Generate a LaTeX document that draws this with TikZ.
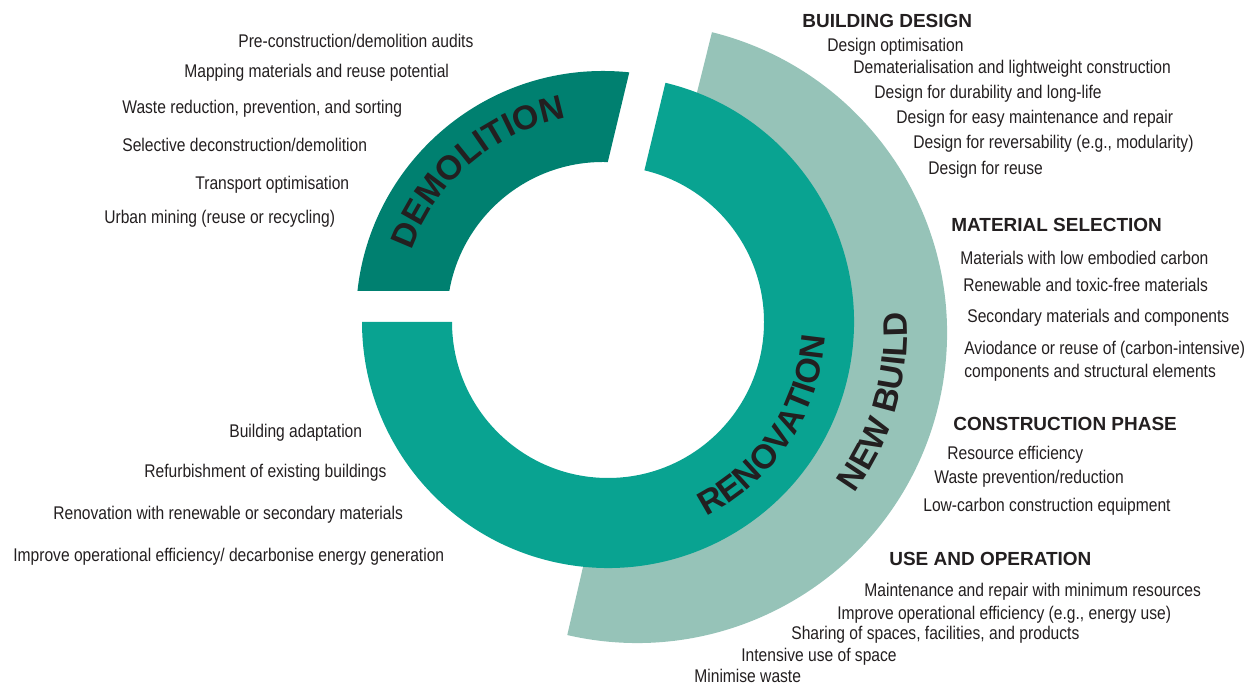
\documentclass[tikz,border=0pt]{standalone}
\usepackage{xcolor}
\usepackage{tikz}
\usepackage{fontspec}
\usetikzlibrary{decorations.text}
\setmainfont{Liberation Sans}
\newfontfamily\narrowfont[FakeStretch=0.85]{Liberation Sans}
\newcommand{\ringfont}{\fontsize{19.3}{22}\selectfont\bfseries}
\definecolor{demcol}{RGB}{0,128,112}
\definecolor{renocol}{RGB}{9,163,145}
\definecolor{newcol}{RGB}{150,195,184}
\definecolor{ink}{RGB}{35,31,32}
\tikzstyle{itemtext} = [anchor=base west, inner sep=0pt, text=ink, font=\narrowfont\fontsize{10.45}{12}\selectfont]
\tikzstyle{headtext} = [anchor=base west, inner sep=0pt, text=ink, font=\fontsize{10.8}{12}\selectfont\bfseries]
\tikzstyle{ringtext} = [decorate, decoration={text along path, text align=center, text color=ink}]

\begin{document}
\begin{tikzpicture}[x=0.02cm, y=0.02cm]

	\useasboundingbox (0,0) rectangle (1254,685);
	\coordinate (C) at (608,363);
	\coordinate (D) at (603,367);
	\coordinate (N) at (637,352);

	% rings
	\fill[newcol] ([shift={(N)}]76:310) arc[start angle=76, end angle=-103, radius=310] -- ([shift={(N)}]-103:205) arc[start angle=-103, end angle=76, radius=205] -- cycle;
	\fill[renocol] ([shift={(C)}]76.5:246) arc[start angle=76.5, end angle=-180, radius=246] -- ([shift={(C)}]180:156) arc[start angle=-180, end angle=76.5, radius=156] -- cycle;
	\begin{scope}
		\clip (340,394) -- (576.9,394) -- (646.6,685) -- (340,685) -- cycle;
		\fill[demcol, even odd rule] (D) circle[radius=247] (D) circle[radius=156];
	\end{scope}

	\path[ringtext, decoration={text={|\ringfont|DEMOLITION}}] ([shift={(D)}]176:203) arc[start angle=176, end angle=85, radius=203];
	\path[ringtext, decoration={text={|\ringfont|RENOVATION}}] ([shift={(C)}]-80:218) arc[start angle=-80, end angle=13, radius=218];
	\path[ringtext, decoration={text={|\ringfont|NEW BUILD}}] ([shift={(N)}]-62:270) arc[start angle=-62, end angle=30, radius=270];

	% demolition
	\node (dem1) [itemtext] at (238,637) {Pre-construction/demolition audits};
	\node (dem2) [itemtext] at (184,607) {Mapping materials and reuse potential};
	\node (dem3) [itemtext] at (122,571) {Waste reduction, prevention, and sorting};
	\node (dem4) [itemtext] at (122,533) {Selective deconstruction/demolition};
	\node (dem5) [itemtext] at (195,495) {Transport optimisation};
	\node (dem6) [itemtext] at (104,461) {Urban mining (reuse or recycling)};

	% renovation
	\node (ren1) [itemtext] at (229,247) {Building adaptation};
	\node (ren2) [itemtext] at (144,207) {Refurbishment of existing buildings};
	\node (ren3) [itemtext] at (53,165) {Renovation with renewable or secondary materials};
	\node (ren4) [itemtext] at (13,123) {Improve operational efficiency/ decarbonise energy generation};

	% new build
	\node (bd) [headtext] at (802,657) {BUILDING DESIGN};
	\node (bd1) [itemtext] at (827,633) {Design optimisation};
	\node (bd2) [itemtext] at (853,611) {Dematerialisation and lightweight construction};
	\node (bd3) [itemtext] at (874,586) {Design for durability and long-life};
	\node (bd4) [itemtext] at (896,561) {Design for easy maintenance and repair};
	\node (bd5) [itemtext] at (913,536) {Design for reversability (e.g., modularity)};
	\node (bd6) [itemtext] at (928,510) {Design for reuse};

	\node (ms) [headtext] at (951,453) {MATERIAL SELECTION};
	\node (ms1) [itemtext] at (960,420) {Materials with low embodied carbon};
	\node (ms2) [itemtext] at (963,393) {Renewable and toxic-free materials};
	\node (ms3) [itemtext] at (967,362) {Secondary materials and components};
	\node (ms4) [itemtext] at (964,330) {Aviodance or reuse of (carbon-intensive)};
	\node (ms5) [itemtext] at (964,307) {components and structural elements};

	\node (cp) [headtext] at (953,254) {CONSTRUCTION PHASE};
	\node (cp1) [itemtext] at (947,225) {Resource efficiency};
	\node (cp2) [itemtext] at (934,201) {Waste prevention/reduction};
	\node (cp3) [itemtext] at (923,173) {Low-carbon construction equipment};

	\node (uo) [headtext] at (889,119) {USE AND OPERATION};
	\node (uo1) [itemtext] at (864,88) {Maintenance and repair with minimum resources};
	\node (uo2) [itemtext] at (837,65) {Improve operational efficiency (e.g., energy use)};
	\node (uo3) [itemtext] at (791,45) {Sharing of spaces, facilities, and products};
	\node (uo4) [itemtext] at (741,23) {Intensive use of space};
	\node (uo5) [itemtext] at (694,2) {Minimise waste};

\end{tikzpicture}
\end{document}
